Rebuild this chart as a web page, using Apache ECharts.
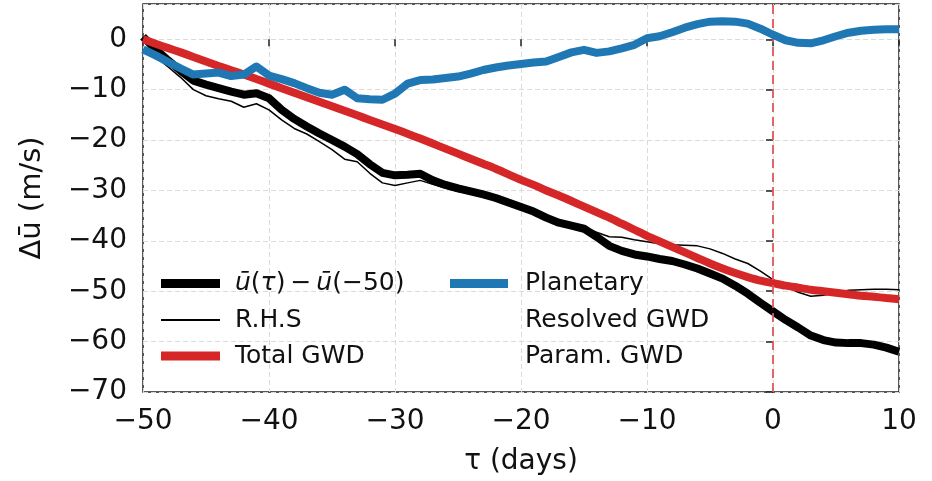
<!DOCTYPE html>
<html>
<head>
<meta charset="utf-8">
<script src="https://cdn.jsdelivr.net/npm/echarts@6/dist/echarts.min.js"></script>
<style>
html,body{margin:0;padding:0;background:#fff;}
#c{width:932px;height:481px;}
</style>
</head>
<body>
<div id="c"></div>
<script>
// ---- data ----
const days = [-50,-49,-48,-47,-46,-45,-44,-43,-42,-41,-40,-39,-38,-37,-36,-35,-34,-33,-32,-31,-30,-29,-28,-27,-26,-25,-24,-23,-22,-21,-20,-19,-18,-17,-16,-15,-14,-13,-12,-11,-10,-9,-8,-7,-6,-5,-4,-3,-2,-1,0,1,2,3,4,5,6,7,8,9,10];
const ubarDiff = [0.5,-2.0,-4.2,-6.3,-8.2,-9.0,-9.7,-10.4,-11.0,-10.7,-11.7,-14.0,-15.8,-17.3,-18.7,-20.0,-21.3,-22.8,-24.8,-26.5,-27.0,-26.9,-26.7,-28.0,-28.9,-29.6,-30.2,-30.8,-31.5,-32.4,-33.3,-34.2,-35.4,-36.4,-37.0,-37.6,-39.2,-41.0,-42.0,-42.7,-43.1,-43.6,-44.0,-44.7,-45.5,-46.5,-47.5,-48.9,-50.5,-52.3,-54.0,-55.7,-57.2,-58.8,-59.7,-60.2,-60.3,-60.3,-60.6,-61.2,-62.0];
const rhs = [-2.0,-3.5,-5.5,-7.6,-10.0,-11.2,-11.8,-12.3,-13.5,-12.8,-14.0,-16.0,-17.7,-18.8,-20.3,-21.9,-23.8,-24.3,-26.6,-28.5,-29.0,-28.5,-28.0,-28.8,-29.5,-30.2,-30.6,-31.1,-31.7,-32.5,-33.3,-34.1,-35.2,-36.1,-36.7,-37.3,-38.3,-39.2,-39.3,-39.8,-40.2,-40.6,-40.8,-40.9,-41.0,-41.6,-42.5,-43.6,-44.5,-46.0,-47.7,-49.0,-50.2,-51.0,-50.8,-50.3,-49.8,-49.7,-49.6,-49.6,-49.7];
const totalGWD = [0,-0.9,-1.75,-2.6,-3.5,-4.4,-5.3,-6.15,-7.0,-7.9,-8.8,-9.7,-10.6,-11.5,-12.4,-13.3,-14.2,-15.1,-16.0,-16.9,-17.8,-18.75,-19.7,-20.7,-21.7,-22.7,-23.7,-24.7,-25.7,-26.8,-27.9,-28.9,-30.0,-31.0,-32.1,-33.2,-34.3,-35.4,-36.6,-37.8,-39.0,-40.1,-41.2,-42.3,-43.4,-44.5,-45.5,-46.4,-47.2,-47.9,-48.4,-48.9,-49.3,-49.7,-50.0,-50.3,-50.6,-50.9,-51.1,-51.35,-51.6];
const planetary = [-2.0,-3.2,-4.5,-5.8,-7.0,-6.8,-6.6,-7.3,-7.0,-5.4,-7.2,-7.9,-8.7,-9.7,-10.6,-11.0,-10.0,-11.7,-11.9,-12.0,-10.8,-8.8,-8.1,-8.0,-7.7,-7.4,-6.8,-6.1,-5.6,-5.2,-4.9,-4.6,-4.4,-3.5,-2.6,-2.1,-2.7,-2.4,-1.8,-1.1,0.2,0.6,1.4,2.3,3.0,3.5,3.6,3.5,3.1,2.1,0.9,-0.2,-0.7,-0.8,-0.2,0.6,1.3,1.7,1.9,2.0,2.0];
const xTicks = [-50,-40,-30,-20,-10,0,10];
const yTicks = [-70,-60,-50,-40,-30,-20,-10,0];
const eventDay = 0;
const names = ['ū(τ) − ū(−50)','R.H.S','Total GWD','Planetary','Resolved GWD','Param. GWD'];

const FONT = 'DejaVu Sans';
const pair = a => days.map((d,i)=>[d,a[i]]);
const fmt = v => v < 0 ? '\u2212' + Math.abs(v) : String(v);

function leg(name, left, cy, w, h, pad, extra){
  return Object.assign({
    data:[name], left:left, top:cy-15, padding:0, orient:'horizontal',
    selectedMode:false, icon:'rect', itemWidth:w, itemHeight:h,
    textStyle:{fontFamily:FONT, fontSize:25, color:'#111', lineHeight:30, padding:[0,0,0,pad]}
  }, extra||{});
}

const chart = echarts.init(document.getElementById('c'), null, {renderer:'canvas'});
chart.setOption({
  backgroundColor:'#fff',
  animation:false,
  grid:{left:143, right:33, top:4, bottom:88.5, show:true, borderColor:'#222', borderWidth:1.5, backgroundColor:'transparent'},
  xAxis:{
    type:'value', min:xTicks[0], max:xTicks[xTicks.length-1], interval:10,
    axisLine:{show:false},
    axisTick:{show:true, inside:false, length:7, lineStyle:{color:'#222', width:1.5}},
    axisLabel:{formatter:fmt, fontFamily:FONT, fontSize:28, color:'#111', margin:16},
    splitLine:{show:true, lineStyle:{color:'#dadada', width:1, type:[5,3]}},
    name:'τ (days)', nameLocation:'middle', nameGap:56,
    nameTextStyle:{fontFamily:FONT, fontSize:28, color:'#111'}
  },
  yAxis:{
    type:'value', min:yTicks[0], max:7, interval:10,
    axisLine:{show:false},
    axisTick:{show:true, inside:false, length:7, lineStyle:{color:'#222', width:1.5}},
    axisLabel:{formatter:fmt, fontFamily:FONT, fontSize:28, color:'#111', margin:16, showMaxLabel:false},
    splitLine:{show:true, lineStyle:{color:'#dadada', width:1, type:[5,3]}},
    name:'Δū (m/s)', nameLocation:'middle', nameGap:96,
    nameTextStyle:{fontFamily:FONT, fontSize:29, color:'#111'}
  },
  legend:[
    leg(names[0], 161, 283.5, 59, 9, 10, {
      formatter:()=>'{i|ū}({i|τ})\u2009−\u2009{i|ū}(−50)',
      textStyle:{fontFamily:FONT, fontSize:25, color:'#111', lineHeight:30, padding:[0,0,0,10],
        rich:{i:{fontFamily:FONT, fontSize:25, fontStyle:'italic', color:'#111'}}}
    }),
    leg(names[1], 161, 320, 59, 2, 10),
    leg(names[2], 161, 356, 59, 9, 10),
    leg(names[3], 450, 283.5, 58, 9, 12),
    leg(names[4], 450, 320, 58, 9, 12),
    leg(names[5], 450, 356, 58, 9, 12)
  ],
  series:[
    {name:names[0], type:'line', data:pair(ubarDiff), showSymbol:false, color:'#000',
     lineStyle:{width:8, color:'#000', join:'round'}, z:2},
    {name:names[1], type:'line', data:pair(rhs), showSymbol:false, color:'#000',
     lineStyle:{width:1.5, color:'#000'}, z:3},
    {name:names[2], type:'line', data:pair(totalGWD), showSymbol:false, smooth:0.3, color:'#d62728',
     lineStyle:{width:8, color:'#d62728'}, z:4},
    {name:names[3], type:'line', data:pair(planetary), showSymbol:false, color:'#1f77b4',
     lineStyle:{width:8, color:'#1f77b4', join:'round'}, z:5},
    {name:names[4], type:'line', data:[], showSymbol:false, color:'rgba(0,0,0,0)', lineStyle:{width:0}},
    {name:names[5], type:'line', data:[], showSymbol:false, color:'rgba(0,0,0,0)', lineStyle:{width:0}},
    {name:'event', type:'line', data:[], z:6, silent:true,
     markLine:{symbol:['none','none'], silent:true, label:{show:false},
       lineStyle:{color:'#e0555a', width:2, type:[9,5], opacity:0.9},
       data:[{xAxis:eventDay}]}}
  ]
});
</script>
</body>
</html>
